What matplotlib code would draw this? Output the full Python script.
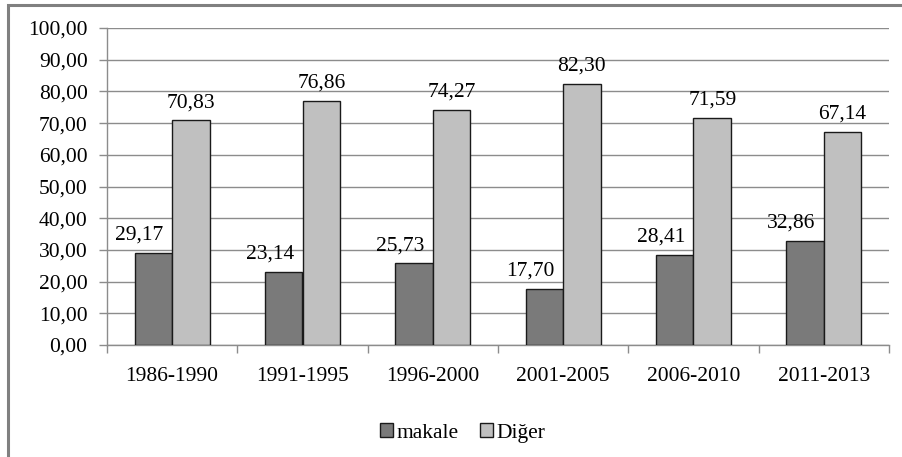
import numpy as np
import matplotlib
matplotlib.use('Agg')
import matplotlib.pyplot as plt
from matplotlib.patches import Rectangle
from matplotlib.ticker import FuncFormatter, FixedLocator

# data
periods = ['1986-1990', '1991-1995', '1996-2000', '2001-2005', '2006-2010', '2011-2013']
makale = [29.17, 23.14, 25.73, 17.70, 28.41, 32.86]
diger = [70.83, 76.86, 74.27, 82.30, 71.59, 67.14]

plt.rcParams['font.family'] = ['Liberation Serif', 'DejaVu Serif']
fs = 15.5

fig = plt.figure(figsize=(9.02, 4.57), dpi=100)
ax = fig.add_axes([107/902, 1-345/457, (889-107)/902, (345-28)/457])

# outer chart border (cut off on the right and bottom)
fig.patches.append(Rectangle((8/902, -0.1), 1.2, 1-5/457+0.1, transform=fig.transFigure,
                             fill=False, edgecolor='#808080', linewidth=2.2))

x = np.arange(len(periods))
w = 0.288
b1 = ax.bar(x - w/2, makale, w, color='#7a7a7a', edgecolor='#1a1a1a', linewidth=1, label='makale', zorder=3)
b2 = ax.bar(x + w/2, diger, w, color='#c0c0c0', edgecolor='#1a1a1a', linewidth=1, label='Diğer', zorder=3)

fmt = lambda v: ('%.2f' % v).replace('.', ',')
for xi, v in zip(x, makale):
    ax.annotate(fmt(v), (xi - w/2, v), xytext=(-10, 6), textcoords='offset points',
                ha='center', va='bottom', fontsize=fs)
for xi, v in zip(x, diger):
    ax.annotate(fmt(v), (xi + w/2, v), xytext=(0, 6), textcoords='offset points',
                ha='center', va='bottom', fontsize=fs)

ax.set_ylim(0, 100)
ax.set_xlim(-0.5, len(periods) - 0.5)
ax.set_yticks(np.arange(0, 101, 10))
ax.yaxis.set_major_formatter(FuncFormatter(lambda v, p: fmt(v)))
ax.yaxis.grid(True, color='#8c8c8c', linewidth=1)
ax.set_axisbelow(True)

ax.set_xticks(x)
ax.set_xticklabels(periods)
ax.xaxis.set_minor_locator(FixedLocator(np.arange(-0.5, len(periods), 1)))
ax.tick_params(axis='x', which='major', length=0, pad=16, labelsize=fs)
ax.tick_params(axis='x', which='minor', length=6, width=1, color='#8c8c8c', direction='out')
ax.tick_params(axis='y', length=6, width=1, color='#8c8c8c', pad=8, labelsize=fs)

for s in ['top', 'right']:
    ax.spines[s].set_visible(False)
for s in ['left', 'bottom']:
    ax.spines[s].set_color('#8c8c8c')
    ax.spines[s].set_linewidth(1)

fig.legend(handles=[b1, b2], loc='center', bbox_to_anchor=(0.513, 1-433/457), ncol=2,
           frameon=False, fontsize=fs, handlelength=0.6, handleheight=0.6,
           handletextpad=0.15, columnspacing=1.0)

fig.savefig('out.png', dpi=100)
